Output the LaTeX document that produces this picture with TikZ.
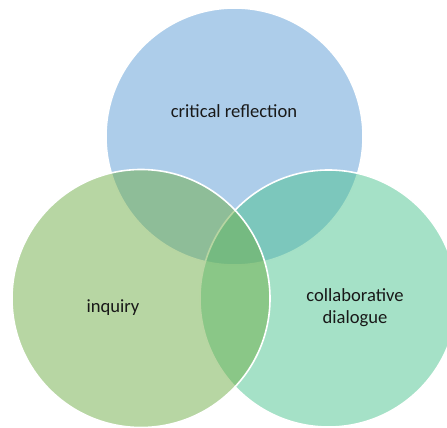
\documentclass[tikz,border=0pt]{standalone}
\usepackage{fontspec}
\setmainfont{Carlito}
\definecolor{cblue}{HTML}{5B9BD5}
\definecolor{cgreen}{HTML}{70AD47}
\definecolor{cteal}{HTML}{4CC38F}
\begin{document}
\begin{tikzpicture}[x=1pt,y=-1pt,
  venn/.style={circle, inner sep=0pt, draw=white, line width=1.6pt, fill opacity=0.5, draw opacity=1},
  lbl/.style={font=\fontsize{18.6}{22}\selectfont, text=black!90, align=center, inner sep=0pt}]
\useasboundingbox (0,0) rectangle (447,428);
\node[venn, fill=cblue, minimum size=257pt] (top) at (234.5,136.5) {};
\node[venn, fill=cteal, minimum size=257pt] (right) at (328.5,298.5) {};
\node[venn, fill=cgreen, minimum size=258pt] (left) at (141,298.5) {};
\node[lbl] (t1) at (234,111) {critical reflection};
\node[lbl] (t2) at (113,308) {inquiry};
\node[lbl] (t3) at (355,308) {collaborative\\dialogue};
\end{tikzpicture}
\end{document}
